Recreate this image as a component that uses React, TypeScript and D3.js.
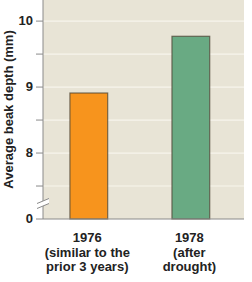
import * as d3 from "d3";

// chart data
const categories = ["1976", "1978"];
const subLabels = [
  ["(similar to the", "prior 3 years)"],
  ["(after", "drought)"],
];
const values = [8.91, 9.77];
const barColors = ["#f7941d", "#69aa83"];
const majorTicks = [8, 9, 10];
const minorTicks = [7.5, 8.5, 9.5];
const gridValues = [7.5, 8, 8.5, 9, 9.5, 10];
const baseLabel = "0";
const yLabel = "Average beak depth (mm)";

const W = 252;
const H = 282;
const left = 43;
const right = 244;
const top = 0;
const bottom = 219;
const font = "'Liberation Sans', Arial, Helvetica, sans-serif";

export default function App() {
  // the axis is broken: everything below 7 is collapsed, bottom reads "0"
  const y = d3.scaleLinear().domain([7, 10.32]).range([bottom, top]);
  const x = d3
    .scaleBand()
    .domain(categories)
    .range([left, right])
    .paddingInner(0.63)
    .paddingOuter(0.3)
    .align(0.44);

  const breakY = y(7.25);

  return (
    <svg
      width={W}
      height={H}
      style={{ position: "absolute", left: 0, top: 0 }}
      fontFamily={font}
    >
      <rect x={0} y={0} width={W} height={H} fill="#fff" />
      <rect x={left} y={top} width={right - left} height={bottom - top} fill="#e8e4d6" />

      {/* gridlines */}
      {gridValues.map((v) => (
        <line key={v} x1={left} x2={right} y1={y(v)} y2={y(v)} stroke="#f7f5ec" strokeWidth={1.2} />
      ))}

      {/* bars */}
      {categories.map((c, i) => (
        <rect
          key={c}
          x={x(c)}
          y={y(values[i])}
          width={x.bandwidth()}
          height={bottom - y(values[i])}
          fill={barColors[i]}
          stroke="#4d4535"
          strokeOpacity={0.75}
          strokeWidth={1.2}
        />
      ))}

      {/* y axis */}
      <line x1={left} x2={left} y1={top} y2={bottom} stroke="#8a8a8a" strokeWidth={1} />
      <line x1={left} x2={right} y1={bottom} y2={bottom} stroke="#8a8a8a" strokeWidth={1.2} />
      {majorTicks.map((t) => (
        <g key={t}>
          <line x1={left - 7} x2={left} y1={y(t)} y2={y(t)} stroke="#8a8a8a" />
          <text x={33} y={y(t)} dy="0.3em" textAnchor="end" fontSize={13} fontWeight="bold" fill="#222">
            {t}
          </text>
        </g>
      ))}
      {minorTicks.map((t) => (
        <line key={t} x1={left - 7} x2={left} y1={y(t)} y2={y(t)} stroke="#8a8a8a" />
      ))}
      <line x1={left - 7} x2={left} y1={bottom} y2={bottom} stroke="#8a8a8a" />
      <text x={33} y={bottom} dy="0.3em" textAnchor="end" fontSize={13} fontWeight="bold" fill="#222">
        {baseLabel}
      </text>

      {/* axis break */}
      <polygon
        points={`${left - 6},${breakY + 1} ${left + 6},${breakY - 4} ${left + 6},${breakY + 1} ${left - 6},${breakY + 6}`}
        fill="#fff"
      />
      <line x1={left - 6} x2={left + 6} y1={breakY + 1} y2={breakY - 4} stroke="#8a8a8a" />
      <line x1={left - 6} x2={left + 6} y1={breakY + 6} y2={breakY + 1} stroke="#8a8a8a" />

      {/* category labels */}
      {categories.map((c, i) => {
        const cx = (x(c) ?? 0) + x.bandwidth() / 2 - 1.5;
        return (
          <text key={c} x={cx} textAnchor="middle" fontSize={13} fontWeight="bold" fill="#222">
            <tspan x={cx} y={242}>{c}</tspan>
            {subLabels[i].map((s, j) => (
              <tspan key={j} x={cx} y={256.5 + j * 14.3}>{s}</tspan>
            ))}
          </text>
        );
      })}

      <text
        transform={`translate(12.5,${109.5}) rotate(-90)`}
        textAnchor="middle"
        fontSize={13}
        fontWeight="bold"
        fill="#222"
      >
        {yLabel}
      </text>
    </svg>
  );
}
